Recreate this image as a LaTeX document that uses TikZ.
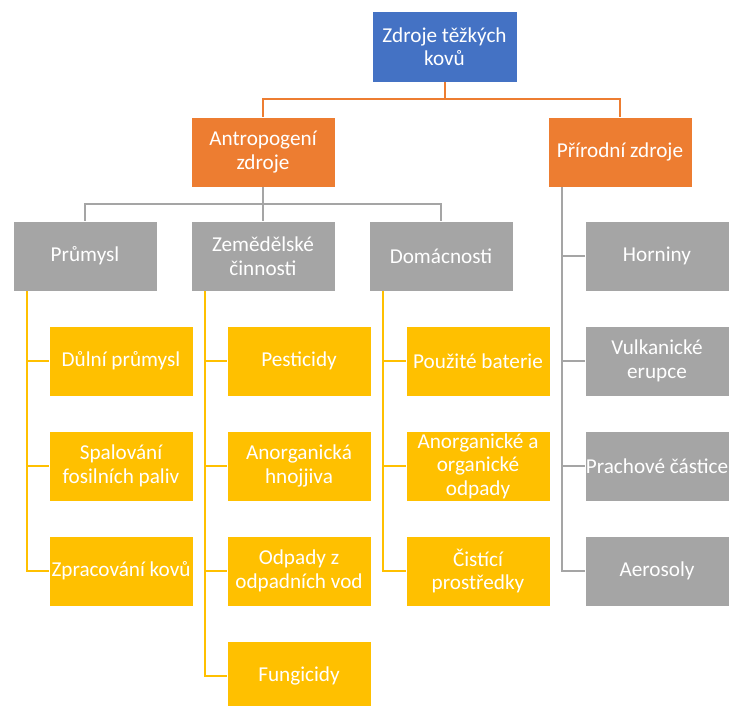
\documentclass[tikz,border=0pt]{standalone}
\usepackage{fontspec}
\setmainfont{Carlito}
\usepackage{xcolor}
\definecolor{zdblue}{HTML}{4472C4}
\definecolor{zdorange}{HTML}{ED7D31}
\definecolor{zdgray}{HTML}{A5A5A5}
\definecolor{zdgold}{HTML}{FFC000}
\tikzset{
  box/.style={minimum width=144pt,minimum height=70pt,inner xsep=0pt,inner ysep=2pt,
    align=center,text=white,draw=white,line width=0.6pt,font=\fontsize{21.2}{23.5}\selectfont},
  topbox/.style={box,fill=zdblue},
  mainbox/.style={box,fill=zdorange},
  grbox/.style={box,fill=zdgray},
  ylbox/.style={box,fill=zdgold},
  orline/.style={draw=zdorange,line width=2pt},
  grline/.style={draw=zdgray,line width=2pt},
  ylline/.style={draw=zdgold,line width=2pt}
}

\begin{document}
\begin{tikzpicture}[x=1pt,y=-1pt]
      \useasboundingbox (0,0) rectangle (731,706);
      \node[topbox,minimum width=145pt,minimum height=71pt] (zdroje) at (444.5,46.5) {Zdroje těžkých\\kovů};
      \node[mainbox] (antrop) at (263,152) {Antropogení\\zdroje};
      \node[mainbox] (prirod) at (620,152) {Přírodní zdroje};
      \draw[orline] (zdroje.south) -- ++(0,17) -| (antrop.north);
      \draw[orline] (zdroje.south) -- ++(0,17) -| (prirod.north);
      \node[grbox] (prumysl) at (85,256) {Průmysl};
      \node[grbox] (zemed) at (263,256) {Zemědělské\\činnosti};
      \node[grbox] (domac) at (441,256) {Domácnosti};
      \draw[grline] (antrop.south) -- ++(0,17) -| (prumysl.north);
      \draw[grline] (antrop.south) -- (zemed.north);
      \draw[grline] (antrop.south) -- ++(0,17) -| (domac.north);
      \node[ylbox] (dulni) at (121,361) {Důlní průmysl};
      \node[ylbox] (spalov) at (121,466) {Spalování\\fosilních paliv};
      \node[ylbox] (zprac) at (121,571) {Zpracování kovů};
      \draw[ylline] ([xshift=14pt]prumysl.south west) |- (dulni.west);
      \draw[ylline] ([xshift=14pt]prumysl.south west) |- (spalov.west);
      \draw[ylline] ([xshift=14pt]prumysl.south west) |- (zprac.west);
      \node[ylbox] (pestic) at (299,361) {Pesticidy};
      \node[ylbox] (hnoj) at (299,466) {Anorganická\\hnojjiva};
      \node[ylbox] (odpvod) at (299,571) {Odpady z\\odpadních vod};
      \node[ylbox] (fungic) at (299,676) {Fungicidy};
      \draw[ylline] ([xshift=14pt]zemed.south west) |- (pestic.west);
      \draw[ylline] ([xshift=14pt]zemed.south west) |- (hnoj.west);
      \draw[ylline] ([xshift=14pt]zemed.south west) |- (odpvod.west);
      \draw[ylline] ([xshift=14pt]zemed.south west) |- (fungic.west);
      \node[ylbox] (bater) at (478,361) {Použité baterie};
      \node[ylbox] (odpady) at (478,466) {Anorganické a\\organické\\odpady};
      \node[ylbox] (cistic) at (478,571) {Čistící\\prostředky};
      \draw[ylline] ([xshift=14pt]domac.south west) |- (bater.west);
      \draw[ylline] ([xshift=14pt]domac.south west) |- (odpady.west);
      \draw[ylline] ([xshift=14pt]domac.south west) |- (cistic.west);
      \node[grbox] (horn) at (657,256) {Horniny};
      \node[grbox] (vulk) at (657,361) {Vulkanické\\erupce};
      \node[grbox] (prach) at (657,466) {Prachové částice};
      \node[grbox] (aeros) at (657,571) {Aerosoly};
      \draw[grline] ([xshift=14pt]prirod.south west) |- (horn.west);
      \draw[grline] ([xshift=14pt]prirod.south west) |- (vulk.west);
      \draw[grline] ([xshift=14pt]prirod.south west) |- (prach.west);
      \draw[grline] ([xshift=14pt]prirod.south west) |- (aeros.west);
    \end{tikzpicture}
\end{document}
